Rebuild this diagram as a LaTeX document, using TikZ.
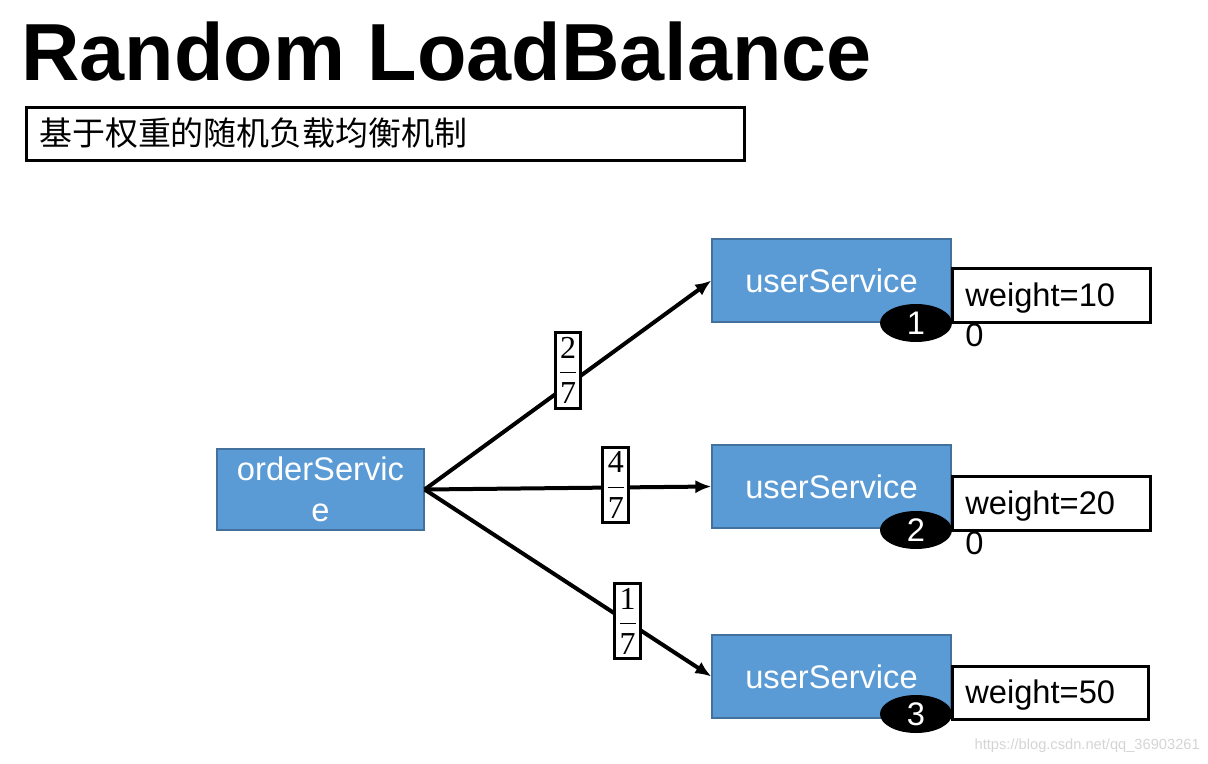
\documentclass[tikz,border=0pt]{standalone}
\usepackage{fontspec}
\setmainfont{Liberation Sans}
\newfontfamily\cjk{Noto Sans CJK SC}
\newfontfamily\serifdig{Liberation Serif}
\usetikzlibrary{arrows.meta,shapes.geometric}
\definecolor{svcblue}{HTML}{5B9BD5}
\definecolor{svcborder}{HTML}{41719C}
\definecolor{wmgray}{HTML}{D4D4D4}
\newcommand{\fracnum}[2]{$\displaystyle\frac{\mbox{\serifdig #1}}{\mbox{\serifdig #2}}$}
\tikzset{
  svc/.style={draw=svcborder, line width=1pt, fill=svcblue, text=white, inner sep=0pt,
    font=\fontsize{24.5pt}{30.75pt}\selectfont, align=center},
  wbox/.style={draw=black, line width=2.25pt, fill=white, inner sep=0pt},
  wtxt/.style={inner sep=0pt, align=left, anchor=north west, font=\fontsize{24.5pt}{30pt}\selectfont},
  badge/.style={ellipse, fill=black, text=white, minimum width=54pt, minimum height=28.5pt, inner sep=0pt,
    font=\fontsize{24.5pt}{28pt}\selectfont},
  frac/.style={draw=black, line width=2.25pt, fill=white, inner xsep=2.5pt, inner ysep=3.5pt,
    font=\fontsize{24pt}{30pt}\selectfont},
  link/.style={line width=3pt, -{Latex[length=12pt,width=10pt]}},
}
\begin{document}
\begin{tikzpicture}[x=0.75pt, y=-0.75pt]
\useasboundingbox (0,0) rectangle (1208,764);
% title
\node[anchor=base west, inner sep=0pt, font=\fontsize{60.75pt}{70pt}\selectfont\bfseries] (title) at (21,80) {Random LoadBalance};
% subtitle box
\node[draw=black, line width=2.25pt, minimum width=538.5pt, minimum height=39.75pt, inner sep=0pt, anchor=north west] (subbox) at (25,106) {};
\node[anchor=west, inner sep=0pt, font=\cjk\fontsize{24.7pt}{30pt}\selectfont] (subtxt) at (39,133) {基于权重的随机负载均衡机制};
% services
\node[svc, minimum width=155.25pt, minimum height=60.75pt] (order) at (320.5,489.5) {orderServic\\e};
\node[svc, minimum width=179.25pt, minimum height=62.25pt] (u1) at (831.5,280.5) {userService};
\node[svc, minimum width=179.25pt, minimum height=62.25pt] (u2) at (831.5,486.5) {userService};
\node[svc, minimum width=179.25pt, minimum height=62.25pt] (u3) at (831.5,676.5) {userService};
% weight boxes
\node[wbox, minimum width=148.5pt, minimum height=40.5pt, anchor=north west] (w1) at (951,267) {};
\node[wbox, minimum width=148.5pt, minimum height=40.5pt, anchor=north west] (w2) at (951,475) {};
\node[wbox, minimum width=147pt, minimum height=39.75pt, anchor=north west] (w3) at (951,665) {};
\node[wtxt] (w1t) at (965,283) {weight=10\\0};
\node[wtxt] (w2t) at (965,491) {weight=20\\0};
\node[wtxt] (w3t) at (965,680) {weight=50};
% badges
\node[badge] (b1) at (916,323) {1};
\node[badge] (b2) at (916,530) {2};
\node[badge] (b3) at (916,714) {3};
% connectors
\draw[link] (order.east) -- (u1.west) node[frac, pos=0.5, yshift=10.9pt] (f1) {\fracnum{2}{7}};
\draw[link] (order.east) -- (u2.west) node[frac, pos=0.667, yshift=1.9pt] (f2) {\fracnum{4}{7}};
\draw[link] (order.east) -- (u3.west) node[frac, pos=0.708, yshift=0.6pt] (f3) {\fracnum{1}{7}};
% watermark
\node[anchor=east, inner sep=0pt, text=wmgray, font=\fontsize{11pt}{13pt}\selectfont] (wm) at (1200,746) {https://blog.csdn.net/qq\_36903261};
\end{tikzpicture}
\end{document}
